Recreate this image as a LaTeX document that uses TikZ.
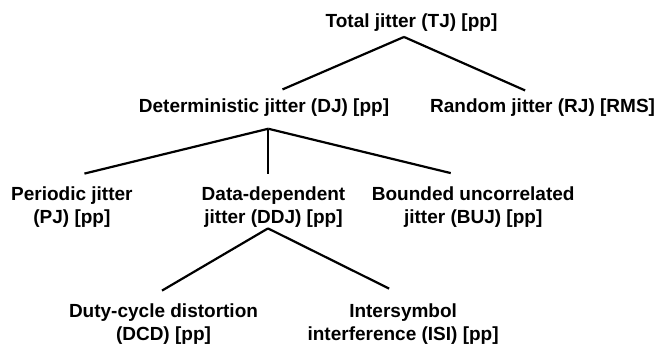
\documentclass[tikz,border=0pt]{standalone}
\usepackage{fontspec}
\setmainfont{Liberation Sans}
\usepackage{tikz}
\usetikzlibrary{positioning}

\begin{document}
\begin{tikzpicture}[x=1pt, y=-1pt, semithick]
\tikzstyle{every node}=[inner sep=0pt, align=center, font=\fontsize{19}{22.5}\selectfont\bfseries]
\tikzstyle{branch}=[draw=black, line width=2.2pt]
\useasboundingbox (0,0) rectangle (659,343);
\node[anchor=base]  (TJ)  at (411.5,27.7)       {Total jitter (TJ) [pp]};
\node[anchor=base]  (DJ)  at (264,112.5)        {Deterministic jitter (DJ) [pp]};
\node               (RJ)  [right=40.5pt of DJ]  {Random jitter (RJ) [RMS]};
\node               (DDJ) at (273.5,207)        {Data-dependent\\jitter (DDJ) [pp]};
\node               (PJ)  [left=68.5pt of DDJ]  {Periodic jitter\\(PJ) [pp]};
\node               (BUJ) [right=26pt of DDJ]   {Bounded uncorrelated\\jitter (BUJ) [pp]};
\node               (DCD) at (163.5,324)        {Duty-cycle distortion\\(DCD) [pp]};
\node               (ISI) [right=49pt of DCD]   {Intersymbol\\interference (ISI) [pp]};
% forks under the parent nodes
\coordinate (TJ-fork)  at ([xshift=-7.5pt,yshift=-5pt]TJ.south);
\coordinate (DJ-fork)  at ([xshift=4.3pt,yshift=-12pt]DJ.south);
\coordinate (DDJ-fork) at ([xshift=-5.5pt,yshift=-1pt]DDJ.south);
\path[branch]
(TJ-fork)  edge ([xshift=18.5pt,yshift=9pt]DJ.north)
(TJ-fork)  edge ([xshift=-17.5pt,yshift=8pt]RJ.north)
(DJ-fork)  edge ([xshift=12.5pt,yshift=13pt]PJ.north)
(DJ-fork)  edge ([xshift=-5.2pt,yshift=13pt]DDJ.north)
(DJ-fork)  edge ([xshift=-22.5pt,yshift=13.5pt]BUJ.north)
(DDJ-fork) edge ([xshift=-1.5pt,yshift=13pt]DCD.north)
(DDJ-fork) edge ([xshift=-14pt,yshift=15pt]ISI.north);
\end{tikzpicture}
\end{document}
